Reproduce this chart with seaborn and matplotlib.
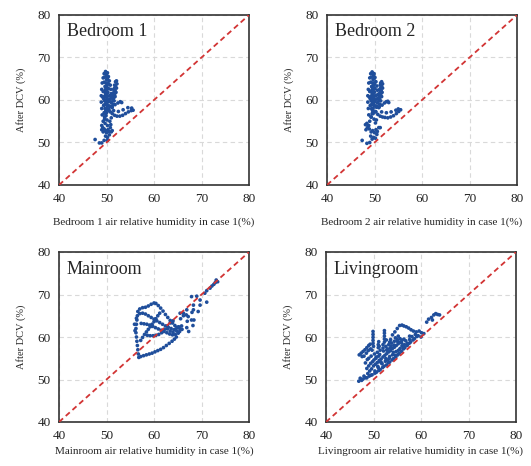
import numpy as np
import matplotlib
matplotlib.use("Agg")
import matplotlib.pyplot as plt
import pandas as pd
import seaborn as sns

# Relative humidity (%) - case 1 (x) vs after DCV (y)
bed1_x = [
    49.3, 49.1, 49.0, 48.9, 48.9, 49.0, 49.1, 49.3, 49.5, 49.8,
    50.2, 50.4, 50.6, 50.8, 50.9, 51.0, 51.0, 50.9, 50.7, 50.5,
    49.9, 50.0, 50.1, 50.0, 50.2, 49.8, 50.1, 49.9, 50.2, 50.0,
    49.7, 50.3, 50.1, 49.8, 50.0, 49.6, 50.2, 49.9, 50.4, 49.7,
    49.6, 49.8, 50.0, 50.2, 49.7, 49.9, 50.1, 50.3, 49.5, 49.8, 50.0, 50.2, 49.9, 50.1, 50.0,
    49.4, 49.6, 49.3, 49.7, 50.0, 50.4, 50.6, 49.5, 49.2, 50.3, 50.7, 49.4, 49.8, 50.5, 49.6, 50.1,
    50.8, 51.0, 51.2, 51.4, 51.5, 51.7, 51.9, 52.1, 52.2, 52.1, 52.0, 51.8, 51.6, 51.4, 51.2, 51.6, 51.3,
    51.5, 51.7, 51.8, 51.9, 51.4, 51.7,
    50.5, 50.8, 51.2, 51.7, 52.2, 52.8, 53.4, 54.0, 54.6, 55.2, 55.6,
    51.2, 51.8, 52.4, 52.9, 53.2,
    51.5, 52.5, 53.5, 54.5, 55.3,
    49.0, 49.2, 49.0, 49.5, 49.3, 49.8, 50.0, 50.3, 50.5, 50.8,
    51.0, 50.6, 50.2, 49.8, 49.5, 48.5, 47.6, 49.0, 50.2, 51.2,
    50.9, 50.7, 51.0, 49.7, 50.2, 49.6, 49.9, 50.1, 49.5, 49.9,
]
bed1_y = [
    55.0, 56.5, 58.0, 59.5, 61.0, 62.5, 64.0, 65.2, 66.2, 66.7,
    66.4, 65.5, 64.5, 63.5, 62.5, 61.5, 60.5, 59.5, 58.5, 57.5,
    60.0, 61.0, 62.0, 63.0, 64.0, 59.0, 60.5, 62.5, 65.0, 58.0,
    61.0, 61.8, 63.5, 63.0, 64.8, 59.8, 59.6, 57.5, 63.8, 62.2,
    56.0, 56.8, 57.0, 58.6, 58.0, 59.5, 59.0, 60.0, 58.8, 61.6, 62.6, 62.8, 64.0, 65.6, 66.0,
    60.3, 60.8, 62.0, 63.2, 61.4, 62.7, 61.0, 64.2, 60.7, 59.6, 60.2, 58.7, 57.8, 58.6, 65.4, 60.9,
    58.5, 59.5, 60.5, 61.5, 62.5, 63.5, 64.3, 64.5, 63.8, 62.8, 61.8, 60.8, 59.8, 59.0, 58.2, 62.0, 61.0,
    60.5, 61.2, 62.2, 63.2, 60.0, 62.8,
    57.8, 57.2, 56.8, 56.4, 56.2, 56.2, 56.4, 56.8, 57.2, 57.5, 57.6,
    58.6, 58.9, 59.3, 59.6, 59.4,
    57.5, 57.3, 57.7, 58.2, 58.1,
    54.0, 53.5, 53.0, 53.2, 52.5, 52.8, 52.3, 53.0, 52.6, 53.5,
    52.5, 51.8, 51.2, 51.5, 50.5, 49.9, 50.7, 49.9, 50.5, 52.8,
    54.2, 55.0, 55.8, 54.5, 54.0, 55.5, 56.3, 55.3, 57.0, 57.8,
]

bed2_x = [
    49.0, 48.8, 48.7, 48.6, 48.6, 48.7, 48.8, 49.0, 49.2, 49.5,
    49.9, 50.1, 50.3, 50.5, 50.6, 50.7, 50.7, 50.6, 50.4, 50.2,
    49.6, 49.7, 49.8, 49.7, 49.9, 49.5, 49.8, 49.6, 49.9, 49.7,
    49.4, 50.0, 49.8, 49.5, 49.7, 49.3, 49.9, 49.6, 50.0, 49.4,
    49.3, 49.5, 49.7, 49.9, 49.4, 49.6, 49.8, 50.0, 49.2, 49.5, 49.7, 49.9, 49.6, 49.8, 49.8,
    49.1, 49.3, 49.0, 49.4, 49.7, 50.1, 50.3, 49.2, 48.9, 50.0, 50.4, 49.1, 49.5, 50.2, 49.3, 49.8,
    50.5, 50.7, 50.9, 51.0, 51.1, 51.2, 51.3, 51.5, 51.7, 51.7, 51.6, 51.5, 51.3, 51.1, 50.9, 51.2, 51.0,
    51.1, 51.3, 51.4, 51.5, 51.0, 51.3,
    50.3, 50.7, 51.2, 51.7, 52.2, 52.8, 53.4, 54.0, 54.6, 55.1, 55.5,
    51.0, 51.6, 52.1, 52.5, 52.8, 53.0,
    51.5, 52.5, 53.5, 54.5, 55.0,
    48.8, 48.5, 48.2, 48.4, 48.9, 49.3, 49.6, 50.0, 50.3, 50.6,
    50.9, 50.5, 49.8, 49.5, 49.2, 48.4, 47.4, 49.0, 50.2, 51.2,
    50.2, 48.1, 49.9, 49.3, 49.7, 50.4,
]
bed2_y = [
    55.0, 56.5, 58.0, 59.5, 61.0, 62.5, 64.0, 65.2, 66.2, 66.6,
    66.2, 65.3, 64.3, 63.3, 62.3, 61.3, 60.3, 59.3, 58.3, 57.3,
    60.0, 61.0, 62.0, 63.0, 64.0, 59.0, 60.5, 62.5, 65.0, 58.0,
    61.0, 61.8, 63.5, 63.0, 64.8, 59.8, 59.6, 57.5, 63.8, 62.2,
    56.0, 56.8, 57.0, 58.6, 58.0, 59.5, 59.0, 60.0, 58.8, 61.6, 62.6, 62.8, 64.0, 65.6, 66.0,
    60.3, 60.8, 62.0, 63.2, 61.4, 62.7, 61.0, 64.2, 60.7, 59.6, 60.2, 58.7, 57.8, 58.6, 65.4, 60.9,
    58.5, 59.5, 60.5, 61.5, 62.5, 63.5, 64.0, 64.3, 63.8, 62.8, 61.8, 60.8, 59.8, 59.0, 58.2, 62.0, 61.0,
    60.5, 61.2, 62.2, 63.2, 60.0, 62.8,
    57.2, 56.6, 56.2, 56.0, 55.9, 55.8, 56.0, 56.3, 56.8, 57.3, 57.7,
    58.4, 58.8, 59.3, 59.6, 59.7, 59.4,
    57.2, 57.0, 57.2, 57.6, 57.9,
    54.0, 53.5, 53.0, 54.5, 53.2, 52.5, 52.8, 52.3, 53.0, 52.6,
    53.5, 51.9, 51.2, 50.8, 51.5, 49.8, 50.5, 50.0, 51.0, 53.5,
    54.6, 54.2, 55.5, 56.0, 56.8, 55.3,
]

main_x = [
    56.8, 56.7, 56.6, 56.5, 56.4, 56.3, 56.2, 56.2, 56.3, 56.4, 56.5, 56.6, 57.0, 57.6,
    56.0, 55.9, 56.3,
    58.2, 58.8, 59.4, 60.0, 60.4, 60.9, 61.4, 61.9, 62.4, 62.9, 63.4, 63.9, 64.4, 64.9, 65.4, 65.9,
    57.0, 57.6, 58.2, 58.8, 59.4, 60.0, 60.6, 61.2, 61.8, 62.4, 63.0, 63.6, 64.2, 64.8, 65.4,
    57.3, 57.9, 58.5, 59.1, 59.7, 60.3, 60.9, 61.5, 62.1, 62.7, 63.3, 63.9, 64.5, 65.1,
    57.2, 57.6, 58.0, 58.4, 58.8, 59.2, 59.6, 60.0, 60.4, 60.8, 61.2,
    58.6, 59.2, 59.8, 60.4, 61.0, 61.6, 62.2, 62.8, 63.4, 64.0,
    57.2, 57.8, 58.4, 59.0, 59.6, 60.2, 60.8, 61.4, 62.0, 62.6, 63.2, 63.8, 64.3, 64.7,
    64.6, 65.2, 65.8, 64.0, 63.4, 62.8,
    65.6, 66.2, 66.8, 67.0, 66.9, 67.3, 68.2, 68.4, 68.0, 68.3,
    67.9, 69.0, 69.7, 69.3, 68.3, 70.7, 71.1, 71.8, 72.2, 72.6,
    73.1, 73.4, 72.9, 71.1, 69.7, 66.9, 66.2, 67.2, 67.9, 65.5,
]
main_y = [
    55.2, 56.0, 57.0, 58.0, 59.0, 60.0, 61.0, 62.0, 63.0, 64.0, 65.0, 66.0, 66.6, 66.9,
    61.5, 63.0, 64.4,
    67.0, 67.3, 67.7, 68.0, 67.9, 67.4, 66.8, 66.1, 65.3, 64.6, 63.9, 63.3, 62.7, 62.3, 62.0, 61.8,
    65.5, 65.6, 65.4, 65.0, 64.6, 64.2, 63.8, 63.4, 63.0, 62.6, 62.3, 62.0, 61.7, 61.4, 61.3,
    63.2, 63.1, 63.0, 62.8, 62.5, 62.2, 61.9, 61.6, 61.3, 61.0, 60.7, 60.5, 60.6, 60.9,
    59.2, 59.9, 60.6, 61.2, 61.8, 62.4, 63.0, 63.6, 64.3, 65.0, 65.6,
    60.4, 60.3, 60.3, 60.4, 60.6, 61.0, 61.8, 62.6, 63.3, 63.8,
    55.4, 55.6, 55.8, 56.0, 56.2, 56.5, 56.8, 57.1, 57.5, 58.0, 58.5, 59.0, 59.5, 60.0,
    61.9, 62.4, 62.6, 61.1, 61.4, 61.9,
    64.3, 65.0, 65.2, 63.7, 62.2, 61.3, 62.7, 64.0, 65.8, 67.5,
    69.5, 69.6, 68.7, 66.0, 66.4, 70.3, 70.9, 71.5, 72.0, 72.4,
    73.4, 73.0, 72.8, 68.2, 67.5, 66.4, 65.6, 64.8, 64.0, 65.6,
]

living_x = [
    46.9, 47.5, 47.8, 48.3, 48.6, 49.1, 49.4, 49.7, 50.3, 50.6, 51.1, 51.4, 51.9, 52.2, 52.7, 53.1,
    53.4, 53.9, 54.2, 54.7, 55.1, 55.4, 55.9, 56.3, 56.6, 57.1, 57.5, 57.8, 58.3, 58.6, 59.1,
    49.6, 50.0, 50.4, 50.8, 51.2, 51.6, 52.0, 52.4, 52.8, 53.2, 53.6, 54.0, 54.4, 54.8, 55.2, 55.6,
    56.0, 56.4, 50.3, 51.0, 51.8, 52.5, 53.3, 54.0, 54.8, 55.6, 56.5,
    49.0, 49.5, 50.2, 50.8, 51.4, 52.0, 52.6, 53.2, 53.8, 54.4, 55.0, 49.8, 50.5, 51.1, 52.8, 53.5,
    50.6, 51.3, 52.1, 52.9, 53.7, 54.3, 55.1, 55.9, 56.8, 50.9, 51.7, 52.6, 53.4, 54.2, 55.3,
    56.2, 57.1, 49.4, 48.7, 48.3, 50.1, 51.5, 53.0, 54.6, 56.0, 57.6, 58.1, 52.7, 51.2, 49.7,
    47.0, 47.4, 47.8, 48.2, 48.6, 49.0, 49.3, 48.0, 48.5, 47.6, 48.9, 49.4,
    47.2, 48.0, 48.8, 49.2, 49.0, 48.6,
    49.9, 49.9, 49.9, 49.9, 49.9, 50.0, 52.3, 52.3, 52.3, 52.3, 52.3, 52.0,
    51.0, 51.0, 51.1, 53.4, 53.6, 54.6, 55.2, 55.6,
    56.4, 56.9, 57.4, 57.9, 58.4, 59.0, 59.6, 60.1, 60.6, 61.2, 61.6, 62.2, 62.7,
    63.1, 63.5, 63.9, 62.4, 57.6, 58.8, 60.0, 59.4, 54.0, 54.5, 55.0, 55.5, 56.0,
]
living_y = [
    49.6, 49.8, 50.1, 50.4, 50.4, 50.8, 51.0, 51.1, 51.5, 51.7, 52.1, 52.3, 52.8, 53.1, 53.4, 53.9,
    54.1, 54.6, 54.9, 55.3, 55.8, 56.1, 56.6, 57.2, 57.5, 58.0, 58.5, 58.8, 59.3, 59.6, 60.1,
    52.5, 53.2, 53.6, 54.0, 54.5, 54.8, 55.3, 55.7, 56.1, 56.5, 56.8, 57.3, 57.6, 58.0, 58.4, 58.8,
    59.2, 59.5, 52.0, 52.8, 53.7, 54.3, 55.0, 55.8, 56.6, 57.3, 58.2,
    55.0, 55.5, 56.0, 56.4, 56.9, 57.4, 57.8, 58.2, 58.6, 59.0, 59.4, 54.2, 55.0, 55.5, 56.9, 57.4,
    55.3, 55.9, 56.7, 57.2, 57.9, 58.1, 58.9, 58.6, 59.1, 53.1, 53.9, 54.9, 55.4, 56.4, 56.9,
    57.8, 58.5, 53.8, 54.7, 53.9, 54.6, 54.1, 54.6, 55.7, 57.9, 59.4, 60.1, 59.3, 57.8, 56.9,
    55.8, 56.2, 56.6, 57.0, 57.5, 58.0, 58.3, 55.5, 56.2, 55.4, 56.8, 57.2,
    50.3, 50.8, 51.4, 52.0, 53.2, 52.6,
    58.5, 59.2, 59.9, 60.6, 61.3, 57.8, 58.8, 59.5, 60.2, 60.9, 61.5, 58.2,
    57.5, 58.2, 58.9, 58.8, 59.4, 59.8, 60.2, 59.6,
    62.6, 62.4, 62.1, 61.7, 61.4, 61.2, 61.4, 61.0, 60.8, 63.5, 64.2, 64.6, 65.2,
    65.5, 65.3, 65.2, 64.0, 60.2, 60.6, 60.0, 60.3, 60.5, 61.2, 62.0, 62.7, 62.8,
]

rooms = ["Bedroom 1", "Bedroom 2", "Mainroom", "Livingroom"]
xlabels = [
    "Bedroom 1 air relative humidity in case 1(%)",
    "Bedroom 2 air relative humidity in case 1(%)",
    "Mainroom air relative humidity in case 1(%)",
    "Livingroom air relative humidity in case 1(%)",
]
ticks = [40, 50, 60, 70, 80]
diag = [40, 80]

sns.set_theme(style="white")
plt.rcParams["font.family"] = ["Liberation Serif", "DejaVu Serif"]

blue = "#1f4e9b"
red = "#d23434"

fig = plt.figure(figsize=(5.31, 4.66), dpi=100)
W, H = 531, 466
boxes = [(59, 15), (327, 15), (59, 252), (326, 252)]  # left, top in pixels
data = [(bed1_x, bed1_y), (bed2_x, bed2_y), (main_x, main_y), (living_x, living_y)]

for i, ((left, top), (xs, ys)) in enumerate(zip(boxes, data)):
    ax = fig.add_axes([left / W, 1 - (top + 170) / H, 190 / W, 170 / H])
    ax.grid(True, color="#d9d9d9", ls=(0, (4, 3)), lw=0.8)
    ax.set_axisbelow(True)
    df = pd.DataFrame({"x": xs, "y": ys})
    sns.scatterplot(data=df, x="x", y="y", ax=ax, s=7, color=blue,
                    edgecolor="none", linewidth=0, zorder=3)
    ax.plot(diag, diag, color=red, ls=(0, (3, 2)), lw=1.3, zorder=4)
    ax.set_xlim(40, 80)
    ax.set_ylim(40, 80)
    ax.set_xticks(ticks)
    ax.set_yticks(ticks)
    ax.tick_params(length=0, labelsize=9.5, pad=6, colors="#222222")
    for s in ax.spines.values():
        s.set_color("#333333")
        s.set_linewidth(1.2)
    ax.set_xlabel(xlabels[i], fontsize=8, labelpad=9 if i < 2 else 3)
    ax.set_ylabel("After DCV (%)", fontsize=7.5, labelpad=8)
    ax.text(0.04, 0.95, rooms[i], transform=ax.transAxes, fontsize=13,
            va="top", ha="left")

fig.savefig("out.png", dpi=100)
